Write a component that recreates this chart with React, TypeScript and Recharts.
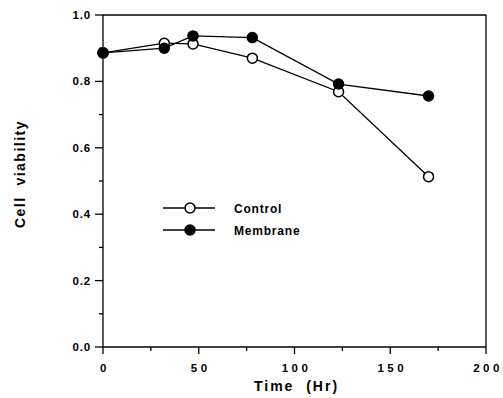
import { LineChart, Line, XAxis, YAxis, ReferenceLine, Legend } from 'recharts'

const hours = [0, 32, 47, 78, 123, 170]
const control = [0.886, 0.915, 0.913, 0.87, 0.769, 0.513]
const membrane = [0.886, 0.9, 0.937, 0.932, 0.792, 0.756]

const xTicks = [0, 25, 50, 75, 100, 125, 150, 175, 200]
const xLabels = [0, 50, 100, 150, 200]
const yTicks = [0, 0.1, 0.2, 0.3, 0.4, 0.5, 0.6, 0.7, 0.8, 0.9, 1.0]
const yLabels = [0, 0.2, 0.4, 0.6, 0.8, 1.0]

const data = hours.map((h, i) => ({ h, control: control[i], membrane: membrane[i] }))

const FONT = '"Liberation Sans", Arial, sans-serif'
const INK = '#000'

const hollow = new Set(['control'])

function XTick({ x, y, payload }: any) {
  const v = payload.value
  const major = xLabels.includes(v)
  return (
    <g>
      <line x1={x} x2={x} y1={y} y2={y + (major ? 7 : 4)} stroke={INK} strokeWidth={1.3} />
      {major && (
        <text x={x + 2} y={y + 25} textAnchor="middle" fontFamily={FONT} fontWeight="bold"
          fontSize={11.5} letterSpacing={3.5} fill={INK}>
          {v}
        </text>
      )}
    </g>
  )
}

function YTick({ x, y, payload }: any) {
  const v = payload.value
  const major = yLabels.some((m) => Math.abs(m - v) < 1e-6)
  return (
    <g>
      <line x1={x} x2={x - (major ? 8 : 4)} y1={y} y2={y} stroke={INK} strokeWidth={1.3} />
      {major && (
        <text x={x - 12} y={y + 4} textAnchor="end" fontFamily={FONT} fontWeight="bold"
          fontSize={11.5} letterSpacing={0.8} fill={INK}>
          {v.toFixed(1)}
        </text>
      )}
    </g>
  )
}

function LegendBox({ payload }: any) {
  return (
    <svg width={140} height={40}>
      {(payload || []).map((p: any, i: number) => {
        const cy = 8 + i * 22
        const open = hollow.has(p.dataKey)
        return (
          <g key={p.dataKey}>
            <line x1={2} x2={54} y1={cy} y2={cy} stroke={INK} strokeWidth={1.3} />
            <circle cx={29} cy={cy} r={5} fill={open ? '#fff' : INK} stroke={INK} strokeWidth={1.5} />
            <text x={73} y={cy + 4.5} fontFamily={FONT} fontWeight="bold" fontSize={12}
              letterSpacing={0.8} fill={INK}>
              {p.value}
            </text>
          </g>
        )
      })}
    </svg>
  )
}

export default function App() {
  return (
    <div style={{ position: 'absolute', left: 0, top: 0, background: '#fff' }}>
      <LineChart width={503} height={398} data={data} margin={{ top: 15, right: 17, bottom: 0, left: 0 }}>
        <XAxis
          dataKey="h"
          type="number"
          domain={[0, 200]}
          ticks={xTicks}
          interval={0}
          height={51}
          tickSize={0}
          tickMargin={0}
          tickLine={false}
          tick={<XTick />}
          axisLine={{ stroke: INK, strokeWidth: 1.3 }}
          label={{
            value: 'Time  (Hr)',
            content: ({ viewBox }: any) => (
              <text x={viewBox.x + viewBox.width / 2 + 2} y={viewBox.y + 44} textAnchor="middle"
                fontFamily={FONT} fontWeight="bold" fontSize={14} letterSpacing={2}
                fill={INK} style={{ whiteSpace: 'pre' }}>
                Time  (Hr)
              </text>
            ),
          }}
        />
        <YAxis
          type="number"
          domain={[0, 1]}
          ticks={yTicks}
          interval={0}
          width={103}
          tickSize={0}
          tickMargin={0}
          tickLine={false}
          tick={<YTick />}
          axisLine={{ stroke: INK, strokeWidth: 1.3 }}
          label={{
            value: 'Cell  viability',
            content: ({ viewBox }: any) => {
              const cx = viewBox.x + 25
              const cy = viewBox.y + viewBox.height / 2 - 7
              return (
                <text x={cx} y={cy} transform={`rotate(-90 ${cx} ${cy})`} textAnchor="middle"
                  fontFamily={FONT} fontWeight="bold" fontSize={14} letterSpacing={1.5}
                  fill={INK} style={{ whiteSpace: 'pre' }}>
                  Cell  viability
                </text>
              )
            },
          }}
        />
        <ReferenceLine y={1} stroke={INK} strokeWidth={1.3} />
        <ReferenceLine x={200} stroke={INK} strokeWidth={1.3} />
        <Legend
          layout="vertical"
          verticalAlign="middle"
          align="center"
          content={<LegendBox />}
          wrapperStyle={{ left: 161, top: 200, width: 140 }}
        />
        <Line
          dataKey="control"
          name="Control"
          stroke={INK}
          strokeWidth={1.3}
          dot={{ r: 5, fill: '#fff', stroke: INK, strokeWidth: 1.5 }}
          isAnimationActive={false}
        />
        <Line
          dataKey="membrane"
          name="Membrane"
          stroke={INK}
          strokeWidth={1.3}
          dot={{ r: 5, fill: INK, stroke: INK, strokeWidth: 1.5 }}
          isAnimationActive={false}
        />
      </LineChart>
    </div>
  )
}
